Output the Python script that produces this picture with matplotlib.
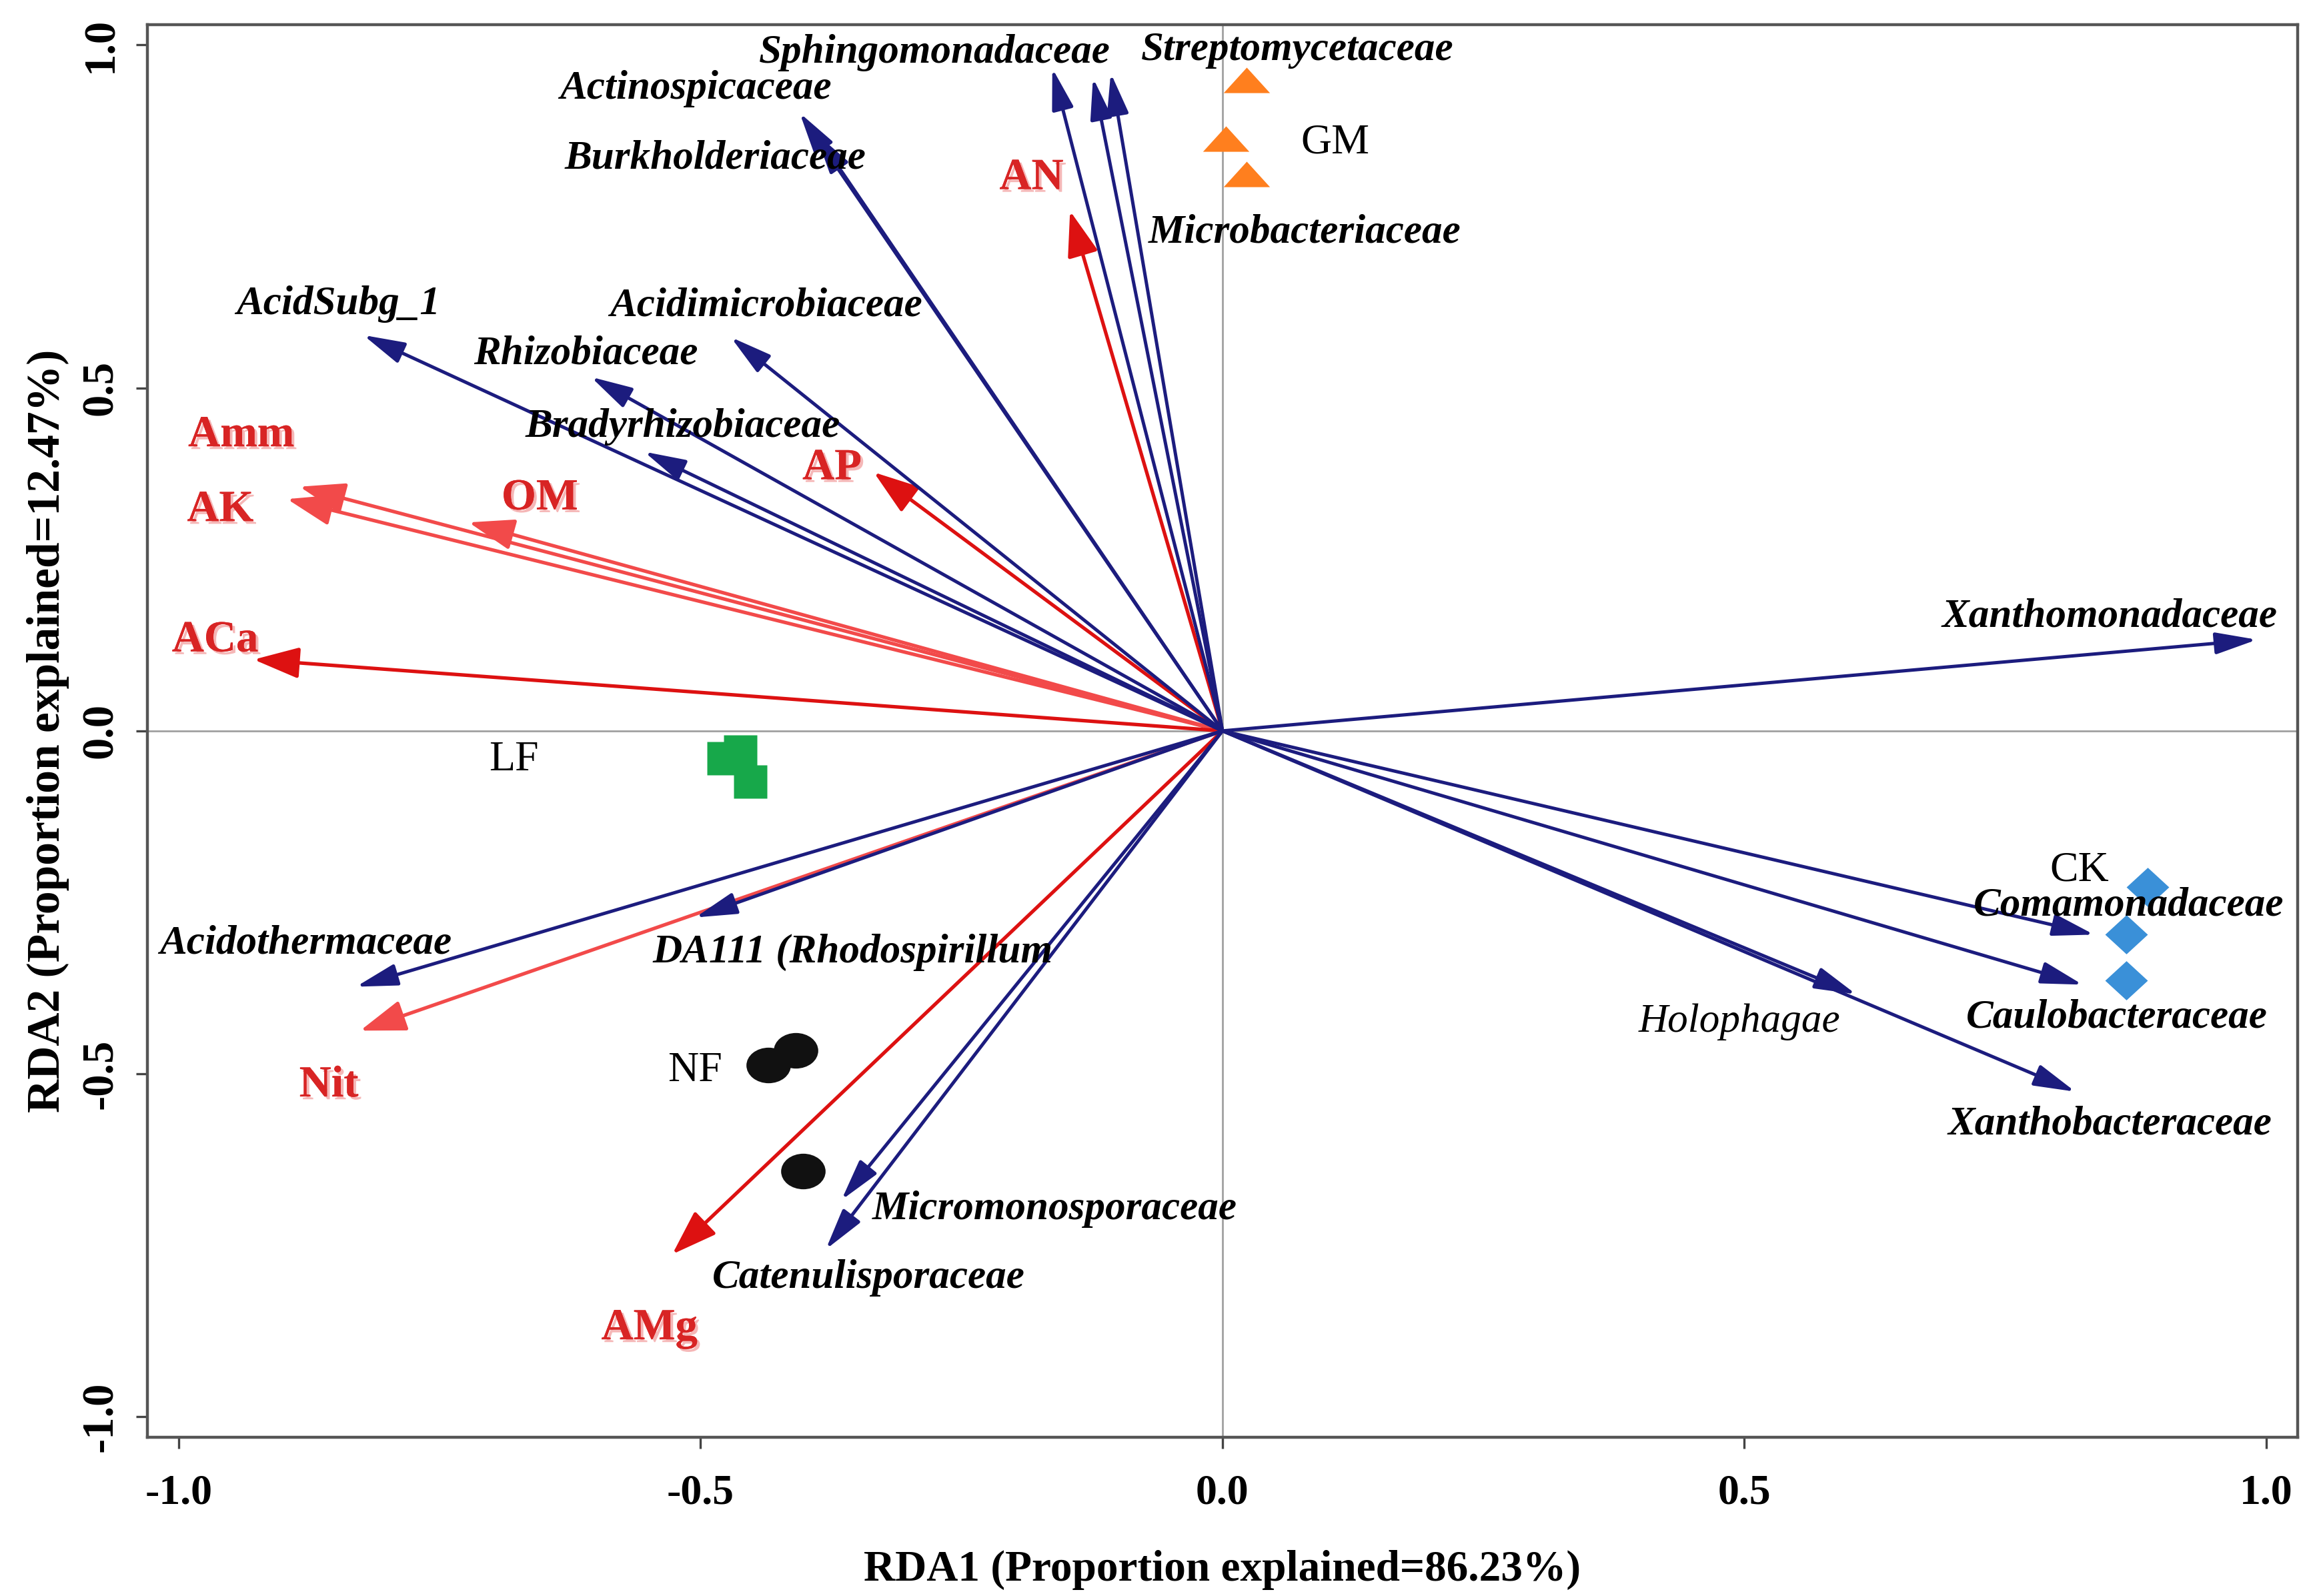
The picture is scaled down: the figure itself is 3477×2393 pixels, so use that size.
import numpy as np
import matplotlib
matplotlib.use('Agg')
import matplotlib.pyplot as plt
from matplotlib.path import Path
from matplotlib.transforms import Affine2D
import matplotlib.patheffects as pe

# species (blue arrows)
species = ['Sphingomonadaceae', 'Streptomycetaceae', 'Microbacteriaceae', 'Actinospicaceae',
           'Burkholderiaceae', 'Acidimicrobiaceae', 'AcidSubg_1', 'Rhizobiaceae',
           'Bradyrhizobiaceae', 'Xanthomonadaceae', 'Comamonadaceae', 'Caulobacteraceae',
           'Holophagae', 'Xanthobacteraceae', 'Acidothermaceae', 'DA111 (Rhodospirillum',
           'Micromonosporaceae', 'Catenulisporaceae']
sp_x = [-0.163, -0.107, -0.124, -0.405, -0.390, -0.471, -0.823, -0.605,
        -0.554, 0.991, 0.835, 0.824, 0.607, 0.817, -0.830, -0.505, -0.365, -0.380]
sp_y = [0.966, 0.959, 0.952, 0.901, 0.872, 0.574, 0.577, 0.516,
        0.407, 0.133, -0.297, -0.370, -0.384, -0.526, -0.373, -0.272, -0.684, -0.756]

# environmental factors (red arrows)
env = ['AN', 'AP', 'Amm', 'AK', 'OM', 'ACa', 'Nit', 'AMg']
env_x = [-0.146, -0.334, -0.884, -0.896, -0.722, -0.928, -0.826, -0.527]
env_y = [0.758, 0.377, 0.356, 0.338, 0.304, 0.104, -0.437, -0.763]

# samples
gm_x = [0.023, 0.003, 0.023]
gm_y = [0.949, 0.863, 0.812]
lf_x = [-0.478, -0.462, -0.452]
lf_y = [-0.040, -0.030, -0.074]
nf_x = [-0.435, -0.409, -0.402]
nf_y = [-0.487, -0.466, -0.642]
ck_x = [0.886, 0.866, 0.866]
ck_y = [-0.228, -0.297, -0.364]

# label placement
sp_lab = [(-0.276, 0.989), (0.072, 0.993), (0.079, 0.727), (-0.505, 0.936),
          (-0.486, 0.835), (-0.437, 0.620), (-0.847, 0.622), (-0.610, 0.550),
          (-0.517, 0.443), (0.850, 0.167), (0.868, -0.254), (0.857, -0.418),
          (0.495, -0.424), (0.850, -0.573), (-0.878, -0.310), (-0.354, -0.323),
          (-0.161, -0.697), (-0.339, -0.797)]
env_lab = [(-0.183, 0.806), (-0.374, 0.383), (-0.940, 0.431), (-0.960, 0.322),
           (-0.654, 0.339), (-0.965, 0.132), (-0.856, -0.517), (-0.549, -0.871)]
env_col = ['#dd1111', '#dd1111', '#f24a4a', '#f24a4a', '#f24a4a', '#dd1111', '#f24a4a', '#dd1111']

blue = '#1c1c7e'

plt.rcParams['font.family'] = ['Liberation Serif', 'DejaVu Serif']

fig = plt.figure(figsize=(3477 / 200, 2393 / 200), dpi=200)
ax = fig.add_axes([0.0635, 0.0994, 0.9273, 0.8853])
ax.set_xlim(-1.03, 1.03)
ax.set_ylim(-1.03, 1.03)

ax.axhline(0, color='#a0a0a0', lw=1.0, zorder=0)
ax.axvline(0, color='#a0a0a0', lw=1.0, zorder=0)

for i, name in enumerate(species):
    ax.annotate('', xy=(sp_x[i], sp_y[i]), xytext=(0, 0),
                arrowprops=dict(arrowstyle='-|>,head_length=0.95,head_width=0.25',
                                color=blue, lw=1.8, shrinkA=0, shrinkB=0,
                                mutation_scale=20), zorder=3)
    if name == 'Holophagae':
        ax.text(sp_lab[i][0], sp_lab[i][1], name, ha='center', va='center',
                fontsize=22, style='italic', color='black', zorder=5)
    else:
        ax.text(sp_lab[i][0], sp_lab[i][1], name, ha='center', va='center',
                fontsize=22, style='italic', weight='bold', color='black', zorder=5)

for i, name in enumerate(env):
    ax.annotate('', xy=(env_x[i], env_y[i]), xytext=(0, 0),
                arrowprops=dict(arrowstyle='-|>,head_length=1.05,head_width=0.36',
                                color=env_col[i], lw=1.9, shrinkA=0, shrinkB=0,
                                mutation_scale=20), zorder=2)
    ax.text(env_lab[i][0], env_lab[i][1], name, ha='center', va='center',
            fontsize=24, weight='bold', color='#d82424', zorder=5,
            path_effects=[pe.withSimplePatchShadow(offset=(1.5, -1.5), shadow_rgbFace='#f3a5a5', alpha=0.8),
                          pe.Normal()])

# sample markers
ellipse = Path.unit_circle().transformed(Affine2D().scale(1.25, 1.0))
tri = Path([(-1, -0.55), (1, -0.55), (0, 0.55), (-1, -0.55)],
           [Path.MOVETO, Path.LINETO, Path.LINETO, Path.CLOSEPOLY])
dia = Path([(0, -0.92), (1, 0), (0, 0.92), (-1, 0), (0, -0.92)],
           [Path.MOVETO, Path.LINETO, Path.LINETO, Path.LINETO, Path.CLOSEPOLY])

ax.plot(gm_x, gm_y, ls='none', marker=tri, ms=25, color='#ff7f1e', mec='none', zorder=4)
ax.plot(lf_x, lf_y, ls='none', marker='s', ms=18, color='#17a84a', mec='none', zorder=4)
ax.plot(nf_x, nf_y, ls='none', marker=ellipse, ms=24, color='#111111', mec='none', zorder=4)
ax.plot(ck_x, ck_y, ls='none', marker=dia, ms=23, color='#3a90d8', mec='none', zorder=4)

ax.text(0.108, 0.857, 'GM', ha='center', va='center', fontsize=23, zorder=5)
ax.text(-0.679, -0.043, 'LF', ha='center', va='center', fontsize=23, zorder=5)
ax.text(-0.505, -0.496, 'NF', ha='center', va='center', fontsize=23, zorder=5)
ax.text(0.821, -0.204, 'CK', ha='center', va='center', fontsize=23, zorder=5)

ticks = [-1.0, -0.5, 0.0, 0.5, 1.0]
ax.set_xticks(ticks)
ax.set_yticks(ticks)
ax.set_xticklabels(['-1.0', '-0.5', '0.0', '0.5', '1.0'], fontsize=23, weight='bold')
ax.set_yticklabels(['-1.0', '-0.5', '0.0', '0.5', '1.0'], fontsize=24, weight='bold',
                   rotation=90, va='center')
ax.tick_params(direction='out', length=6, width=1.2, color='#444444')
ax.tick_params(axis='x', pad=14)
ax.tick_params(axis='y', pad=8)
for s in ax.spines.values():
    s.set_color('#555555')
    s.set_linewidth(1.6)

ax.set_xlabel('RDA1 (Proportion explained=86.23%)', fontsize=23.5, weight='bold', labelpad=20)
ax.set_ylabel('RDA2 (Proportion explained=12.47%)', fontsize=25, weight='bold', labelpad=6)

fig.savefig('out.png', dpi=200)
